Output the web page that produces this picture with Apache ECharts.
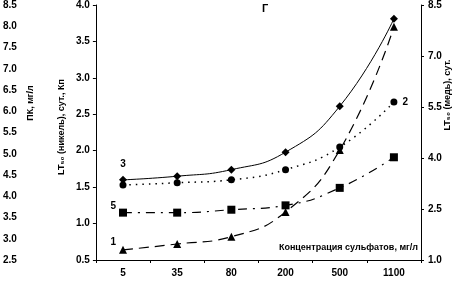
<!DOCTYPE html>
<html>
<head>
<meta charset="utf-8">
<script src="https://cdn.jsdelivr.net/npm/echarts@6/dist/echarts.min.js"></script>
<style>
  html, body { margin: 0; padding: 0; background: #fff; }
  #chart { width: 460px; height: 281px; }
</style>
</head>
<body>
<div id="chart"></div>
<script>
const categories = ['5', '35', '80', '200', '500', '1100'];
// values on the left axis (LT50 nickel, сут., Кп)
const series3 = [1.60, 1.65, 1.74, 1.98, 2.61, 3.81];
const series2 = [1.53, 1.56, 1.60, 1.74, 2.05, 2.67];
const series5 = [1.15, 1.15, 1.19, 1.25, 1.49, 1.91];
const series1 = [0.64, 0.72, 0.82, 1.16, 2.01, 3.70];

const font = '"Liberation Sans Narrow", "Liberation Sans", Arial, "DejaVu Sans", sans-serif';
const tickLabel = { color: '#000', fontFamily: font, fontWeight: 'bold', fontSize: 10 };
const black = { lineStyle: { color: '#000', width: 1 } };

// put a number label on one point of a series
function withLabel(values, idx, text, pos, offset) {
  return values.map(function (v, i) {
    if (i !== idx) return v;
    return {
      value: v,
      label: {
        show: true, formatter: text, position: pos, offset: offset,
        color: '#000', fontFamily: font, fontWeight: 'bold', fontSize: 10
      }
    };
  });
}

const myChart = echarts.init(document.getElementById('chart'));

const option = {
  animation: false,
  grid: { left: 95, right: 39, top: 5, bottom: 21 },
  xAxis: {
    type: 'category',
    data: categories,
    axisLine: black,
    axisTick: { show: true, length: 3, lineStyle: { color: '#000' } },
    axisLabel: Object.assign({ margin: 8 }, tickLabel)
  },
  yAxis: [
    {
      type: 'value', min: 0.5, max: 4.0, interval: 0.5, position: 'left',
      axisLine: { show: true, lineStyle: { color: '#000' } },
      axisTick: { show: true, length: 3, lineStyle: { color: '#000' } },
      splitLine: { show: false },
      axisLabel: Object.assign({ margin: 6, formatter: v => v.toFixed(1) }, tickLabel)
    },
    {
      type: 'value', min: 1.0, max: 8.5, interval: 1.5, position: 'right',
      axisLine: { show: true, lineStyle: { color: '#000' } },
      axisTick: { show: true, length: 3, lineStyle: { color: '#000' } },
      splitLine: { show: false },
      axisLabel: Object.assign({ margin: 7, formatter: v => v.toFixed(1) }, tickLabel)
    },
    {
      type: 'value', min: 2.5, max: 8.5, interval: 0.5, position: 'left', offset: 79,
      axisLine: { show: false },
      axisTick: { show: false },
      splitLine: { show: false },
      axisLabel: Object.assign({ margin: 0, formatter: v => v.toFixed(1) }, tickLabel)
    }
  ],
  series: [
    {
      name: '3', type: 'line', smooth: true, yAxisIndex: 0,
      symbol: 'diamond', symbolSize: 8,
      itemStyle: { color: '#000' },
      lineStyle: { color: '#000', width: 1 },
      data: withLabel(series3, 0, '3', 'top', [0, -2])
    },
    {
      name: '2', type: 'line', smooth: true, yAxisIndex: 0,
      symbol: 'circle', symbolSize: 7,
      itemStyle: { color: '#000' },
      lineStyle: { color: '#000', width: 1.5, type: [1.5, 5] },
      data: withLabel(series2, 5, '2', 'right', [0, 0])
    },
    {
      name: '5', type: 'line', smooth: true, yAxisIndex: 0,
      symbol: 'rect', symbolSize: 8,
      itemStyle: { color: '#000' },
      lineStyle: { color: '#000', width: 1.2, type: [9, 6, 2, 6] },
      data: withLabel(series5, 0, '5', 'left', [2, -6])
    },
    {
      name: '1', type: 'line', smooth: true, yAxisIndex: 0,
      symbol: 'triangle', symbolSize: 8,
      itemStyle: { color: '#000' },
      lineStyle: { color: '#000', width: 1.2, type: [10, 6] },
      data: withLabel(series1, 0, '1', 'left', [2, -8])
    }
  ],
  graphic: [
    {
      type: 'text', left: 262, top: 3,
      style: { text: 'Г', fill: '#000', font: 'bold 11px ' + font }
    },
    {
      type: 'text', right: 42, top: 243,
      style: { text: 'Концентрация сульфатов, мг/л', fill: '#000', font: 'bold 9px ' + font }
    },
    {
      type: 'text', x: 31, y: 103, rotation: Math.PI / 2,
      style: { text: 'ПК, мг/л', fill: '#000', font: 'bold 9px ' + font, align: 'center', verticalAlign: 'middle' }
    },
    {
      type: 'text', x: 62, y: 127, rotation: Math.PI / 2,
      style: { text: 'LT₅₀ (никель), сут., Кп', fill: '#000', font: 'bold 9px ' + font, align: 'center', verticalAlign: 'middle' }
    },
    {
      type: 'text', x: 448, y: 95, rotation: Math.PI / 2,
      style: { text: 'LT₅₀ (медь), сут.', fill: '#000', font: 'bold 9px ' + font, align: 'center', verticalAlign: 'middle' }
    }
  ]
};

myChart.setOption(option);
</script>
</body>
</html>
